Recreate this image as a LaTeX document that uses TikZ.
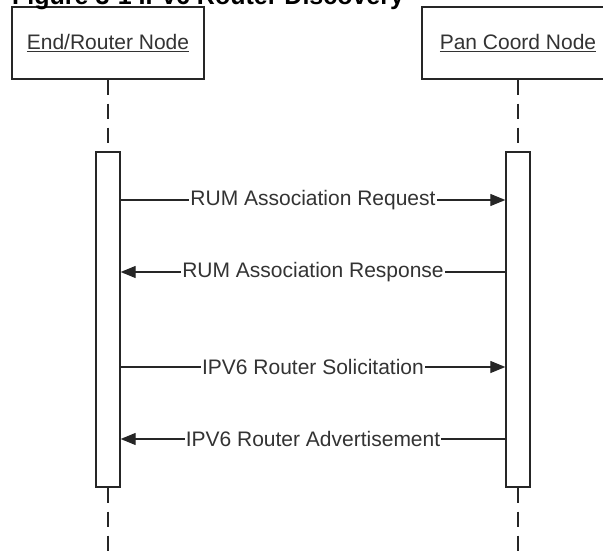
\documentclass[tikz,border=0pt]{standalone}
\usepackage{fontspec}
\setmainfont{Liberation Sans}
\usetikzlibrary{arrows.meta, positioning}

\begin{document}
\begin{tikzpicture}[x=1pt, y=-1pt,
    lifebox/.style={draw=black!85, line width=1.3pt, fill=white, minimum width=192pt, minimum height=72pt, inner sep=0pt, font=\fontsize{21}{25}\selectfont, text=black!80},
    actbar/.style={draw=black!85, line width=1.3pt, fill=white, minimum width=24pt, minimum height=335pt, inner sep=0pt},
    lifeline/.style={draw=black!85, line width=1.3pt, dash pattern=on 15pt off 9pt},
    msg/.style={draw=black!85, line width=1.2pt, -{Triangle[length=15pt, width=12pt]}},
    msglabel/.style={fill=white, inner sep=1pt, font=\fontsize{21}{25}\selectfont, text=black!80}]

    \clip (0,0) rectangle (603,551);
    \useasboundingbox (0,0) rectangle (603,551);

    % the two lifeline heads
    \node[lifebox] (endnode) at (108,43) {\underline{End/Router Node}};
    \node[lifebox] (pannode) at (518,43) {\underline{Pan Coord Node}};

    % the title, cut off at the top
    \node[anchor=base west, inner sep=0pt, font=\fontsize{25}{30}\selectfont\bfseries] (title) at (12,5) {Figure 3-1 IPv6 Router Discovery};

    % the activation bars
    \node[actbar] (endbar) at (108,319.5) {};
    \node[actbar] (panbar) at (518,319.5) {};

    % lower ends of the lifelines
    \coordinate (endfoot) at (108,560);
    \coordinate (panfoot) at (518,560);

    % draw the lifelines
    \draw[lifeline] (endnode) -- (endbar);
    \draw[lifeline] (pannode) -- (panbar);
    \draw[lifeline] (endbar) -- (endfoot);
    \draw[lifeline] (panbar) -- (panfoot);

    % draw the messages
    \draw[msg] (endbar.east |- 0,200) -- node[msglabel] {RUM Association Request} (panbar.west |- 0,200);
    \draw[msg] (panbar.west |- 0,272) -- node[msglabel] {RUM Association Response} (endbar.east |- 0,272);
    \draw[msg] (endbar.east |- 0,367) -- node[msglabel] {IPV6 Router Solicitation} (panbar.west |- 0,367);
    \draw[msg] (panbar.west |- 0,439) -- node[msglabel] {IPV6 Router Advertisement} (endbar.east |- 0,439);
\end{tikzpicture}
\end{document}
